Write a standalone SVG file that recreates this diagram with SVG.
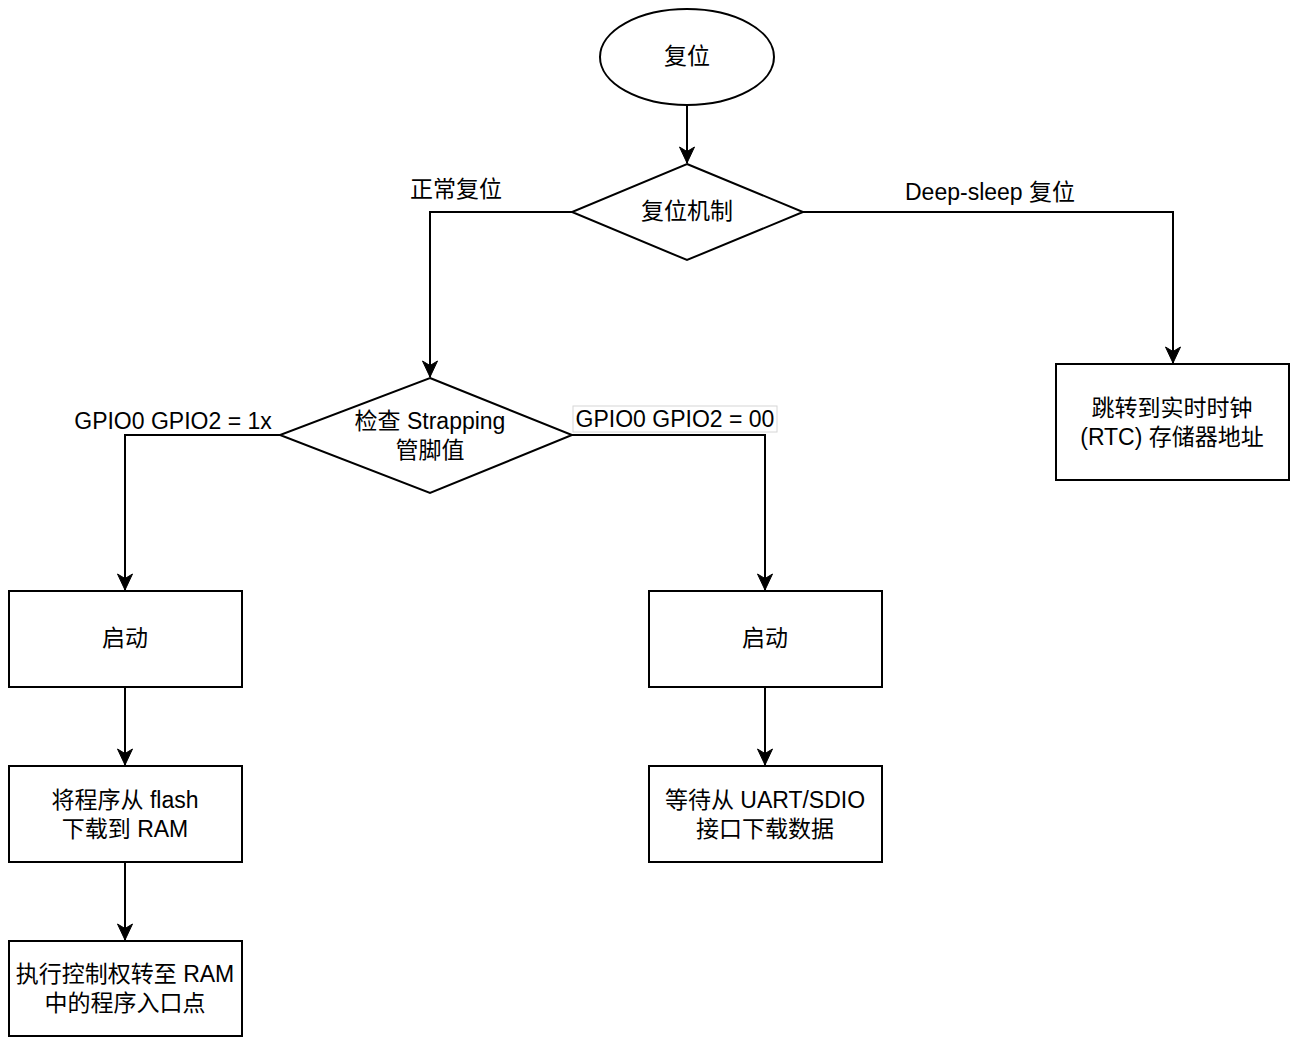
<svg xmlns="http://www.w3.org/2000/svg" width="1292" height="1037" viewBox="0 0 1292 1037">
<style>
.s{fill:#fff;stroke:#000;stroke-width:2}
.c{fill:none;stroke:#000;stroke-width:2}
text{font-family:"Liberation Sans","Noto Sans CJK SC",sans-serif;font-size:23px;fill:#000;text-anchor:middle;dominant-baseline:central}
</style>
<defs>
<marker id="a" markerUnits="userSpaceOnUse" markerWidth="18" markerHeight="18" viewBox="0 0 18 18" refX="17" refY="9" orient="auto">
<path d="M1,1.5 L17,9 L1,16.5 L5.5,9 Z" fill="#000" stroke="#000" stroke-width="1"/>
</marker>
</defs>
<rect width="1292" height="1037" fill="#fff"/>
<g id="connectors">
<path class="c" d="M687,106 V163" marker-end="url(#a)"/>
<path class="c" d="M572,212 H430 V377" marker-end="url(#a)"/>
<path class="c" d="M803,212 H1173 V363" marker-end="url(#a)"/>
<path class="c" d="M280,435 H125 V590" marker-end="url(#a)"/>
<path class="c" d="M572,435 H765 V590" marker-end="url(#a)"/>
<path class="c" d="M125,687 V765" marker-end="url(#a)"/>
<path class="c" d="M125,862 V940" marker-end="url(#a)"/>
<path class="c" d="M765,687 V765" marker-end="url(#a)"/>
<g id="labels">
<text x="456" y="189">正常复位</text>
<text x="990" y="192">Deep-sleep 复位</text>
<text x="173" y="421">GPIO0 GPIO2 = 1x</text>
<rect x="573" y="406" width="204" height="26" fill="#fff" stroke="#d6d6d6" stroke-width="1"/>
<text x="675" y="419">GPIO0 GPIO2 = 00</text>
</g>
</g>
<g id="start"><ellipse class="s" cx="687" cy="57" rx="87" ry="48"/><text x="687" y="56">复位</text></g>
<g id="mechanism"><path class="s" d="M687,164 L803,212 L687,260 L572,212 Z"/><text x="687" y="211">复位机制</text></g>
<g id="strapping"><path class="s" d="M430,378 L572,435 L430,493 L280,435 Z"/><text x="430" y="421">检查 Strapping</text><text x="430" y="450">管脚值</text></g>
<g id="rtc"><rect class="s" x="1056" y="364" width="233" height="116"/><text x="1172" y="408">跳转到实时时钟</text><text x="1172" y="437">(RTC) 存储器地址</text></g>
<g id="boot1"><rect class="s" x="9" y="591" width="233" height="96"/><text x="125" y="638">启动</text></g>
<g id="load"><rect class="s" x="9" y="766" width="233" height="96"/><text x="125" y="800">将程序从 flash</text><text x="125" y="829">下载到 RAM</text></g>
<g id="exec"><rect class="s" x="9" y="941" width="233" height="95"/><text x="125" y="974">执行控制权转至 RAM</text><text x="125" y="1003">中的程序入口点</text></g>
<g id="boot2"><rect class="s" x="649" y="591" width="233" height="96"/><text x="765" y="638">启动</text></g>
<g id="wait"><rect class="s" x="649" y="766" width="233" height="96"/><text x="765" y="800">等待从 UART/SDIO</text><text x="765" y="829">接口下载数据</text></g>
</svg>
